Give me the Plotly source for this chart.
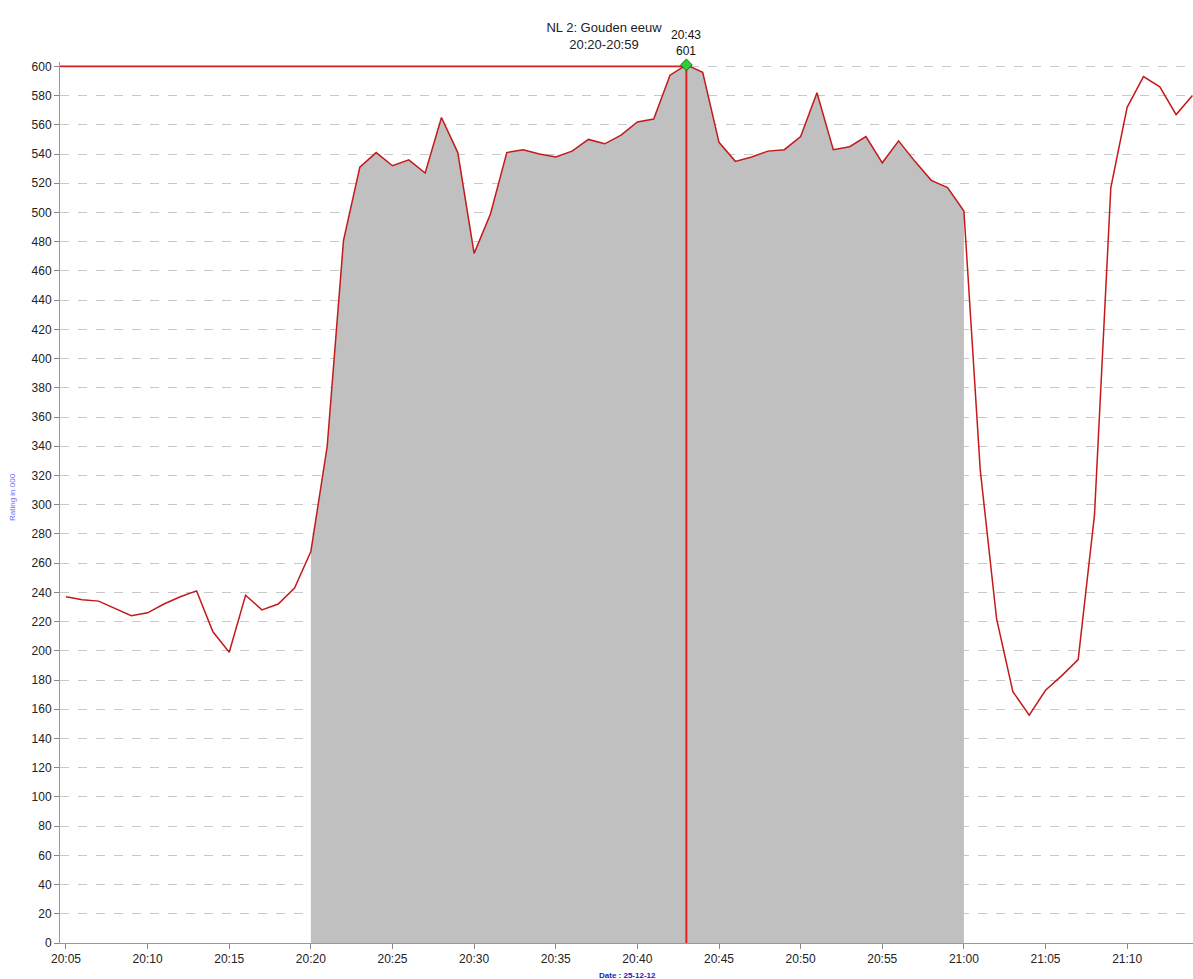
import plotly.graph_objects as go

# ---- data (per minute, 25-12-2012) ----
times = [
    "20:05", "20:06", "20:07", "20:08", "20:09", "20:10", "20:11", "20:12", "20:13", "20:14",
    "20:15", "20:16", "20:17", "20:18", "20:19", "20:20", "20:21", "20:22", "20:23", "20:24",
    "20:25", "20:26", "20:27", "20:28", "20:29", "20:30", "20:31", "20:32", "20:33", "20:34",
    "20:35", "20:36", "20:37", "20:38", "20:39", "20:40", "20:41", "20:42", "20:43", "20:44",
    "20:45", "20:46", "20:47", "20:48", "20:49", "20:50", "20:51", "20:52", "20:53", "20:54",
    "20:55", "20:56", "20:57", "20:58", "20:59", "21:00", "21:01", "21:02", "21:03", "21:04",
    "21:05", "21:06", "21:07", "21:08", "21:09", "21:10", "21:11", "21:12", "21:13", "21:14",
]
ratings = [
    237, 235, 234, 229, 224, 226, 232, 237, 241, 213,
    199, 238, 228, 232, 243, 268, 340, 481, 531, 541,
    532, 536, 527, 565, 541, 472, 499, 541, 543, 540,
    538, 542, 550, 547, 553, 562, 564, 594, 601, 596,
    548, 535, 538, 542, 543, 552, 582, 543, 545, 552,
    534, 549, 535, 522, 517, 501, 324, 222, 172, 156,
    173, 183, 194, 293, 517, 572, 593, 586, 567, 580,
]
program_title = "NL 2: Gouden eeuw"
program_start = "20:20"
program_end = "21:00"
program_label = "20:20-20:59"
date_str = "2012-12-25"
date_label = "Date : 25-12-12"
y_title = "Rating in 000"
y_ticks = list(range(0, 601, 20))

# ---- derived ----
xs = [f"{date_str} {t}:00" for t in times]
i0 = times.index(program_start)
i1 = times.index(program_end)
peak_i = max(range(len(ratings)), key=lambda i: ratings[i])
peak_x = xs[peak_i]
peak_y = ratings[peak_i]

x_range = [f"{date_str} 20:04:38", f"{date_str} 21:14:02"]

fig = go.Figure()

# grey programme area
fig.add_trace(go.Scatter(
    x=xs[i0:i1 + 1], y=ratings[i0:i1 + 1], mode="lines",
    line=dict(width=0, color="#c0c0c0"), fill="tozeroy", fillcolor="#c0c0c0",
    hoverinfo="skip", showlegend=False,
))

# horizontal peak line
fig.add_trace(go.Scatter(
    x=[x_range[0], peak_x], y=[peak_y - 1, peak_y - 1], mode="lines",
    line=dict(color="#d42020", width=1.6), showlegend=False, hoverinfo="skip",
))
# vertical peak line
fig.add_trace(go.Scatter(
    x=[peak_x, peak_x], y=[0, peak_y], mode="lines",
    line=dict(color="#e82020", width=2), showlegend=False, hoverinfo="skip",
))

# rating line
fig.add_trace(go.Scatter(
    x=xs, y=ratings, mode="lines",
    line=dict(color="#c41a1a", width=1.5), showlegend=False,
))

# peak marker
fig.add_trace(go.Scatter(
    x=[peak_x], y=[peak_y], mode="markers",
    marker=dict(symbol="diamond", size=9, color="#33cc33",
                line=dict(color="#1a6a1a", width=1)),
    cliponaxis=False, showlegend=False,
))

fig.add_annotation(
    x=peak_x, y=peak_y, xref="x", yref="y",
    text=f"{times[peak_i]}<br>{peak_y}", showarrow=False,
    yanchor="bottom", yshift=5,
    font=dict(family="Liberation Sans, Arial", size=12, color="#111"),
)

fig.add_annotation(
    x=(13 - 60) / 1133, y=(943 - 497) / 881, xref="paper", yref="paper",
    text=y_title, textangle=-90, showarrow=False,
    xanchor="center", yanchor="middle",
    font=dict(family="Liberation Sans, Arial", size=8, color="#6a6aff"),
)
fig.add_annotation(
    x=(627 - 60) / 1133, y=(943 - 975) / 881, xref="paper", yref="paper",
    text=f"<b>{date_label}</b>", showarrow=False,
    xanchor="center", yanchor="middle",
    font=dict(family="Liberation Sans, Arial", size=8, color="#1a1ac0"),
)

fig.update_layout(
    width=1193, height=979,
    margin=dict(l=60, r=0, t=62, b=36),
    paper_bgcolor="white", plot_bgcolor="white",
    title=dict(
        text=f"{program_title}<br>{program_label}",
        x=604 / 1193, xref="container", xanchor="center",
        y=1 - 32 / 979, yref="container", yanchor="middle",
        font=dict(family="Liberation Sans, Arial", size=13, color="#222"),
    ),
    font=dict(family="Liberation Sans, Arial", size=12, color="#222"),
    showlegend=False,
)

fig.update_xaxes(
    type="date", range=x_range,
    tick0=f"{date_str} 20:05:00", dtick=5 * 60 * 1000, tickformat="%H:%M",
    ticks="outside", ticklen=5, tickcolor="#888",
    showline=True, linecolor="#999", linewidth=1,
    showgrid=False, zeroline=False,
    tickfont=dict(size=12, color="#222"),
)
fig.update_yaxes(
    range=[0, 603], tickvals=y_ticks,
    ticks="outside", ticklen=5, tickcolor="#888",
    showline=True, linecolor="#999", linewidth=1,
    showgrid=True, gridcolor="#c8c8c8", griddash="dash", gridwidth=1,
    zeroline=False,
    tickfont=dict(size=12, color="#222"),
)

fig.write_html("out.html", config={"displayModeBar": False},
               post_script="document.body.style.margin='0';")
